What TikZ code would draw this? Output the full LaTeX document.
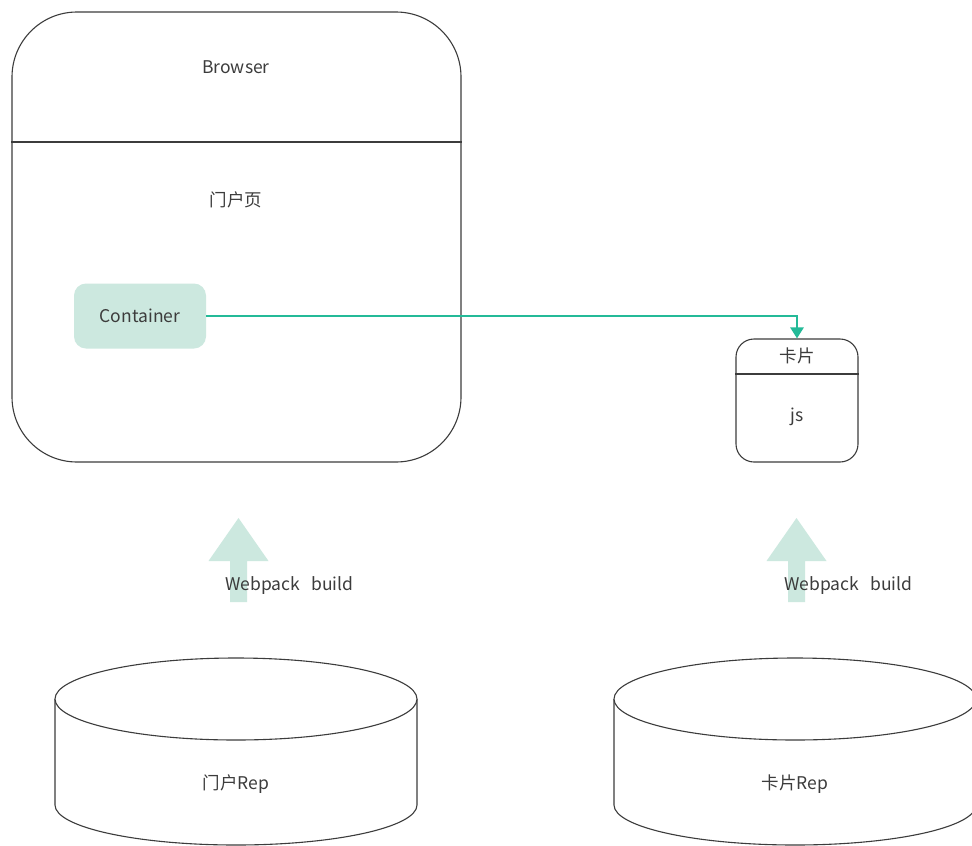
\documentclass[tikz,border=0pt]{standalone}
\usepackage{fontspec}
\setmainfont{Noto Sans CJK SC}
\usetikzlibrary{arrows.meta}
\definecolor{linegray}{RGB}{60,60,60}
\definecolor{txtgray}{RGB}{60,60,60}
\definecolor{mint}{RGB}{204,232,223}
\definecolor{teal}{RGB}{36,186,152}
\tikzset{
  box/.style={draw=linegray, line width=1.1pt, fill=white, inner sep=0pt},
  lbl/.style={text=txtgray, font=\fontsize{17.5}{20}\selectfont, inner sep=0pt},
  conn/.style={draw=teal, line width=2.6pt, -{Triangle[length=11pt,width=13pt]}},
  bigarrow/.style={fill=mint, draw=none},
}
\begin{document}
\begin{tikzpicture}[x=1pt,y=-1pt]
\useasboundingbox[fill=white] (0,0) rectangle (972,846);
\clip (0,0) rectangle (972,846);
% Browser box
\node[box, rounded corners=65pt, minimum width=449pt, minimum height=450pt] (browser) at (236.5,237) {};
\coordinate (sepy) at (0,142);
\draw[linegray, line width=1.1pt] (browser.west |- sepy) -- (browser.east |- sepy);
\node[lbl] (browserlbl) at (236,67) {Browser};
\node[lbl] (portal) at (236,200) {门户页};
% Container
\node[fill=mint, rounded corners=12pt, minimum width=132pt, minimum height=65pt, inner sep=0pt] (cont) at (140,316) {};
\node[lbl] (contlbl) at (140,316) {Container};
% Card
\node[box, rounded corners=18pt, minimum width=122pt, minimum height=123pt] (card) at (797,400.5) {};
\coordinate (cardsep) at (0,374);
\draw[linegray, line width=1.1pt] (card.west |- cardsep) -- (card.east |- cardsep);
\node[lbl] (cardlbl) at (797,356) {卡片};
\node[lbl] (js) at (797,417) {js};
% connector
\draw[conn] (cont.east) -- (cont.east -| card.north) -- (card.north);
% big arrows
\fill[bigarrow] (238.5,518) -- (268.5,561) -- (247,561) -- (247,602) -- (230,602) -- (230,561) -- (208.5,561) -- cycle;
\fill[bigarrow] (796.5,518) -- (826.5,561) -- (805,561) -- (805,602) -- (788,602) -- (788,561) -- (766.5,561) -- cycle;
\node[lbl, anchor=west] (wb1) at (225,586) {Webpack\hspace{0.65em}build};
\node[lbl, anchor=west] (wb2) at (784,586) {Webpack\hspace{0.65em}build};
% cylinders
\draw[linegray, line width=1.1pt, fill=white] (55,699) -- (55,805) arc[start angle=180, end angle=0, x radius=181, y radius=40] -- (417,699);
\draw[linegray, line width=1.1pt, fill=white] (236,699) ellipse [x radius=181, y radius=41];
\node[lbl] (rep1) at (236,784) {门户Rep};
\draw[linegray, line width=1.1pt, fill=white] (614,699) -- (614,805) arc[start angle=180, end angle=0, x radius=181, y radius=40] -- (976,699);
\draw[linegray, line width=1.1pt, fill=white] (795,699) ellipse [x radius=181, y radius=41];
\node[lbl] (rep2) at (795,784) {卡片Rep};
\end{tikzpicture}
\end{document}
